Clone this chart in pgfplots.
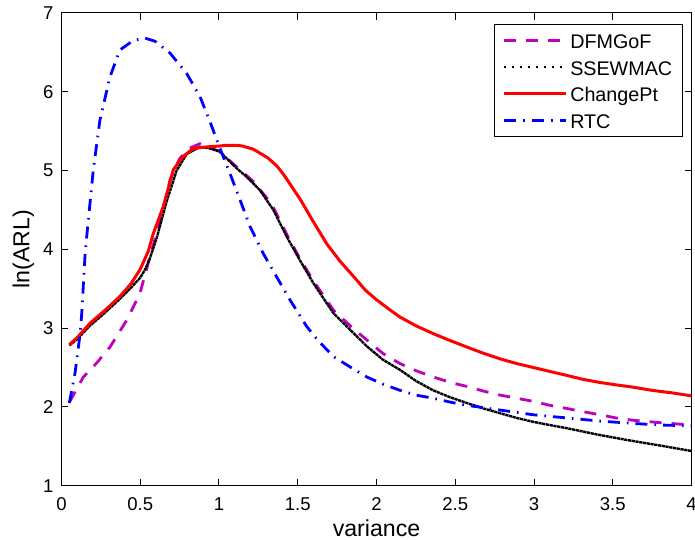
\documentclass[border=0pt]{standalone}
\usepackage{fontspec}
\setmainfont{Liberation Sans}
\usepackage{pgfplots}
\pgfplotsset{compat=1.18}
\definecolor{mag}{RGB}{191,0,191}
\begin{document}
\begin{tikzpicture}
\begin{axis}[
  scale only axis, width=315bp, height=236.4bp,
  xmin=0, xmax=4, ymin=1, ymax=7,
  xtick={0,0.5,1,1.5,2,2.5,3,3.5,4}, ytick={1,2,3,4,5,6,7},
  tick align=inside, major tick length=3.5bp,
  axis line style={line width=0.5bp},
  every tick/.style={black, line width=0.5bp},
  /pgf/number format/assume math mode=true,
  /pgf/number format/fixed,
  tick label style={font=\fontsize{9.3}{11}\selectfont},
  xticklabel style={yshift=-2.3bp},
  yticklabel style={xshift=-0.5bp},
  xlabel={variance}, ylabel={ln(ARL)},
  xlabel style={font=\fontsize{11.6}{13}\selectfont, at={(axis description cs:0.5,-0.1079)}, anchor=base},
  ylabel style={font=\fontsize{11.6}{13}\selectfont, at={(axis description cs:-0.0606,0.5)}, anchor=center},
  legend cell align=left,
  legend image code/.code={\draw[#1] (0bp,0bp) -- (31bp,0bp);},
  legend style={at={(1,1)}, xshift=-4.25bp, yshift=-5.55bp, anchor=north east,
    draw=black, line width=0.5bp, font=\fontsize{9.9}{11}\selectfont,
    inner xsep=4bp, inner ysep=1.35bp, row sep=0bp,
    nodes={inner sep=1.15bp, text height=9.5bp, text depth=1.5bp}},
]
\addplot[mag, line width=1.4bp, dash pattern=on 6bp off 5bp] coordinates {
(0.05,2.06) (0.139,2.38) (0.22,2.55) (0.308,2.76) (0.414,3.10) (0.498,3.44)
(0.573,3.99) (0.62,4.30) (0.689,4.88) (0.75,5.15) (0.81,5.28) (0.879,5.34)
(0.93,5.30) (1.006,5.24) (1.07,5.12) (1.133,5.01) (1.218,4.86) (1.30,4.66)
(1.345,4.53) (1.43,4.19) (1.514,3.88) (1.599,3.60) (1.726,3.23) (1.838,3.02)
(1.938,2.85) (2.04,2.68) (2.149,2.55) (2.25,2.46) (2.36,2.38) (2.47,2.31)
(2.573,2.26) (2.68,2.20) (2.784,2.15) (2.89,2.11) (2.996,2.07) (3.10,2.02)
(3.208,1.98) (3.31,1.94) (3.419,1.90) (3.52,1.86) (3.63,1.83) (3.8,1.80) (4.0,1.77)};
\addlegendentry{DFMGoF}
\addplot[black, line width=1.2bp, dash pattern=on 1.6bp off 0.3bp,
  legend image post style={line width=1bp, dash pattern=on 0.8bp off 3.2bp}] coordinates {
(0.05,2.78) (0.10,2.86) (0.18,3.03) (0.25,3.15) (0.30,3.24) (0.37,3.37)
(0.44,3.51) (0.50,3.64) (0.53,3.74) (0.56,3.88) (0.604,4.14) (0.668,4.61) (0.731,5.00)
(0.795,5.21) (0.879,5.30) (0.943,5.28) (1.006,5.24) (1.07,5.11) (1.122,5.01)
(1.176,4.92) (1.26,4.75) (1.345,4.50) (1.43,4.16) (1.514,3.86) (1.599,3.57)
(1.726,3.19) (1.832,2.98) (1.938,2.77) (2.04,2.60) (2.149,2.47) (2.25,2.33)
(2.36,2.21) (2.47,2.12) (2.573,2.05) (2.68,1.98) (2.784,1.92) (2.89,1.86)
(2.996,1.81) (3.10,1.77) (3.208,1.73) (3.40,1.65) (3.59,1.58) (3.80,1.51) (4.0,1.44)};
\addlegendentry{SSEWMAC}
\addplot[red, line width=1.5bp] coordinates {
(0.05,2.79) (0.10,2.88) (0.18,3.06) (0.25,3.18) (0.30,3.27) (0.37,3.40)
(0.44,3.56) (0.498,3.74) (0.55,3.97) (0.583,4.20) (0.646,4.54) (0.71,5.01)
(0.773,5.18) (0.837,5.28) (0.922,5.30) (1.0,5.31) (1.05,5.32) (1.112,5.32)
(1.15,5.31) (1.218,5.27) (1.26,5.22) (1.31,5.16) (1.366,5.06) (1.41,4.95)
(1.45,4.83) (1.514,4.64) (1.599,4.35) (1.684,4.07) (1.768,3.85) (1.83,3.71)
(1.874,3.61) (1.93,3.48) (2.0,3.36) (2.086,3.23) (2.149,3.14) (2.25,3.03)
(2.36,2.93) (2.47,2.84)
(2.573,2.76) (2.68,2.68) (2.784,2.61) (2.89,2.55) (2.996,2.50) (3.10,2.45)
(3.208,2.40) (3.31,2.35) (3.419,2.31) (3.52,2.28) (3.63,2.25) (3.75,2.21)
(3.87,2.18) (4.0,2.14)};
\addlegendentry{ChangePt}
\addplot[blue, line width=1.4bp, dash pattern=on 6bp off 3.5bp on 0.8bp off 3.5bp] coordinates {
(0.05,2.05) (0.086,2.43) (0.117,2.91) (0.128,3.17) (0.149,3.91) (0.16,4.16)
(0.202,5.01) (0.244,5.64) (0.308,6.19) (0.371,6.53) (0.456,6.65) (0.53,6.68)
(0.594,6.64) (0.689,6.49) (0.795,6.23) (0.879,5.94) (0.954,5.56) (1.006,5.28)
(1.07,4.96) (1.133,4.63) (1.197,4.29) (1.28,3.95) (1.366,3.65) (1.45,3.36)
(1.557,3.02) (1.63,2.84) (1.726,2.64) (1.838,2.50) (1.938,2.38) (2.04,2.29)
(2.149,2.21) (2.25,2.15) (2.36,2.11) (2.47,2.06) (2.573,2.02) (2.68,1.99)
(2.784,1.96) (2.89,1.93) (2.996,1.90) (3.10,1.88) (3.208,1.86) (3.419,1.82)
(3.63,1.79) (3.8,1.77) (4.0,1.76)};
\addlegendentry{RTC}
\end{axis}
\pgfresetboundingbox
\useasboundingbox ([xshift=-30.75bp,yshift=-27.15bp]current axis.south west) rectangle ([xshift=1.75bp,yshift=6.45bp]current axis.north east);
\end{tikzpicture}
\end{document}
